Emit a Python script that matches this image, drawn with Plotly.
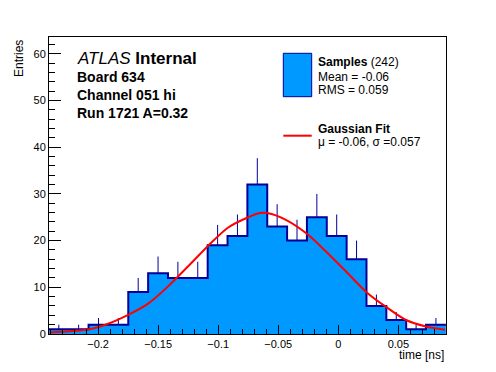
import numpy as np
import plotly.graph_objects as go

# ---- data ----
bin_low = -0.241
bin_width = 0.01653
counts = [1, 1, 2, 2, 9, 13, 12, 12, 19, 21, 32, 23, 20, 25, 21, 16, 6, 3, 1, 2]

fit_x = [-0.2403, -0.2075, -0.1917, -0.175, -0.1583, -0.1417, -0.125, -0.1083,
         -0.0917, -0.075, -0.0653, -0.0592, -0.0425, -0.0258, -0.0092, 0.0075,
         0.0242, 0.0398, 0.0564, 0.0731, 0.0889]
fit_y = [0.3, 1.0, 2.2, 4.1, 6.5, 10.2, 14.5, 18.9, 22.8, 25.0, 25.9, 25.9,
         24.3, 21.4, 17.4, 13.1, 8.8, 5.8, 3.0, 1.6, 0.9]

x_range = [-0.2409, 0.0897]
y_range = [0, 63.6]

# ---- derived ----
nb = len(counts)
edges = bin_low + bin_width * np.arange(nb + 1)
centers = 0.5 * (edges[:-1] + edges[1:])
errs = np.sqrt(np.array(counts, dtype=float))

FILL = "rgb(0,153,255)"
NAVY = "rgb(0,0,153)"
FONT = "Liberation Sans"

W, H = 496, 372
L, R, T, B = 49, 50, 37, 38
PW, PH = W - L - R, H - T - B


def px(x):
    return (x - L) / PW


def py(y):
    return (H - B - y) / PH


fig = go.Figure()

fig.add_trace(go.Scatter(
    x=list(edges), y=counts + [counts[-1]],
    mode="lines", line=dict(shape="hv", color=NAVY, width=2),
    fill="tozeroy", fillcolor=FILL, hoverinfo="skip", showlegend=False))

fig.add_trace(go.Scatter(
    x=centers, y=counts, mode="markers",
    marker=dict(size=1, color=NAVY, opacity=0),
    error_y=dict(type="data", symmetric=False, array=errs,
                 arrayminus=np.zeros(nb), thickness=1, width=0, color=NAVY),
    showlegend=False))

fig.add_trace(go.Scatter(
    x=fit_x, y=fit_y, mode="lines",
    line=dict(color="red", width=2, shape="spline", smoothing=0.8),
    showlegend=False))

ann = []


def text(x, y, s, size, anchor="left", **kw):
    ann.append(dict(x=px(x), y=py(y), xref="paper", yref="paper", text=s,
                    showarrow=False, xanchor=anchor, yanchor="middle",
                    font=dict(family=FONT, size=size, color="black"), **kw))


text(75, 58, "<i>ATLAS</i> <b>Internal</b>", 17)
text(75, 76.7, "<b>Board 634</b>", 14)
text(75, 95, "<b>Channel 051 hi</b>", 14)
text(75, 113.3, "<b>Run 1721 A=0.32</b>", 14)

text(316, 61.7, "<b>Samples</b> (242)", 12)
text(316, 77.3, "Mean = -0.06", 12)
text(316, 90, "RMS = 0.059", 12)
text(316, 129.3, "<b>Gaussian Fit</b>", 12)
text(316, 141.7, "μ = -0.06, σ =0.057", 12)

text(446, 355, "time [ns]", 12, anchor="right")
ann.append(dict(x=px(19), y=py(37.5), xref="paper", yref="paper", text="Entries",
                showarrow=False, xanchor="center", yanchor="top", textangle=-90,
                font=dict(family=FONT, size=12, color="black")))

shapes = [
    dict(type="rect", xref="paper", yref="paper", x0=px(283.3), x1=px(311.7),
         y0=py(96.7), y1=py(53.3), fillcolor=FILL, line=dict(color=NAVY, width=1)),
    dict(type="line", xref="paper", yref="paper", x0=px(283.3), x1=px(311.7),
         y0=py(135.7), y1=py(135.7), line=dict(color="red", width=2)),
]

fig.update_layout(
    width=W, height=H,
    margin=dict(l=L, r=R, t=T, b=B, pad=0),
    paper_bgcolor="white", plot_bgcolor="white",
    font=dict(family=FONT, size=11, color="black"),
    annotations=ann, shapes=shapes, showlegend=False,
    xaxis=dict(range=x_range, tick0=0, dtick=0.05, ticks="inside", ticklen=9,
               tickcolor="black", tickwidth=1, showline=True, linecolor="black",
               linewidth=1, mirror=True, showgrid=False, zeroline=False,
               tickfont=dict(size=11), automargin=False,
               minor=dict(dtick=0.01, tick0=0, ticks="inside", ticklen=5,
                          tickcolor="black", showgrid=False)),
    yaxis=dict(range=y_range, tick0=0, dtick=10, ticks="inside", ticklen=12,
               tickcolor="black", tickwidth=1, showline=True, linecolor="black",
               linewidth=1, mirror=True, showgrid=False, zeroline=False,
               tickfont=dict(size=11), automargin=False,
               minor=dict(dtick=2, tick0=0, ticks="inside", ticklen=6,
                          tickcolor="black", showgrid=False)),
)

fig.write_html("out.html", config={"displayModeBar": False},
               post_script="document.body.style.margin='0';document.body.style.padding='0';")
